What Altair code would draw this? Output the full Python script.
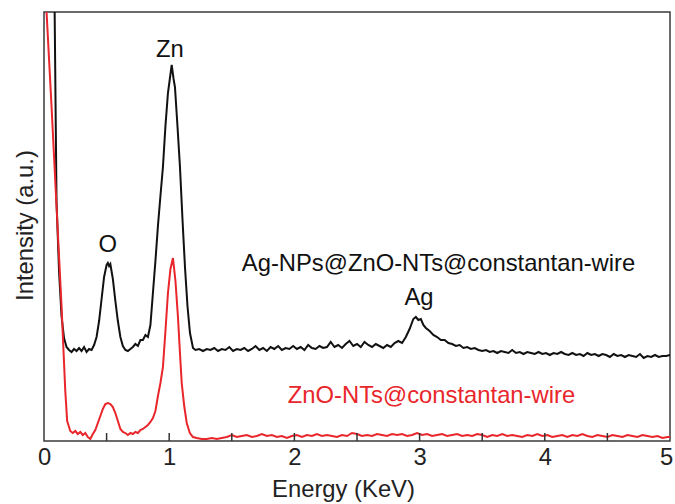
import altair as alt
import pandas as pd

# ---- data ----
black_x = [0.0, 0.085, 0.10, 0.12, 0.14, 0.16, 0.18, 0.20, 0.22, 0.24, 0.26, 0.28, 0.30, 0.32, 0.34, 0.36, 0.38,
           0.40, 0.42, 0.44, 0.46, 0.48, 0.50, 0.51, 0.52, 0.53, 0.55, 0.57, 0.59, 0.61, 0.63, 0.65, 0.67, 0.69,
           0.71, 0.73, 0.75, 0.77, 0.79, 0.81, 0.83, 0.85, 0.87, 0.89, 0.91, 0.93, 0.95, 0.97, 0.99, 1.005, 1.02,
           1.035, 1.046, 1.066, 1.086, 1.106, 1.126, 1.146, 1.166, 1.19, 1.21, 1.24, 1.27, 1.30, 1.33, 1.36, 1.39,
           1.42, 1.45, 1.48, 1.51, 1.54, 1.57, 1.60, 1.63, 1.66, 1.69, 1.72, 1.75, 1.78, 1.81, 1.84, 1.87, 1.90,
           1.93, 1.96, 1.99, 2.02, 2.05, 2.08, 2.11, 2.14, 2.17, 2.20, 2.23, 2.26, 2.29, 2.32, 2.35, 2.38, 2.41,
           2.44, 2.47, 2.50, 2.53, 2.56, 2.59, 2.62, 2.65, 2.68, 2.71, 2.74, 2.77, 2.80, 2.83, 2.86, 2.89, 2.92,
           2.95, 2.97, 2.99, 3.01, 3.03, 3.05, 3.08, 3.11, 3.14, 3.17, 3.20, 3.23, 3.26, 3.29, 3.32, 3.35, 3.38,
           3.41, 3.44, 3.47, 3.50, 3.53, 3.56, 3.59, 3.62, 3.65, 3.68, 3.71, 3.74, 3.77, 3.80, 3.83, 3.86, 3.89,
           3.92, 3.95, 3.98, 4.01, 4.04, 4.07, 4.10, 4.13, 4.16, 4.19, 4.22, 4.25, 4.28, 4.31, 4.34, 4.37, 4.40,
           4.43, 4.46, 4.49, 4.52, 4.55, 4.58, 4.61, 4.64, 4.67, 4.70, 4.73, 4.76, 4.79, 4.82, 4.85, 4.88, 4.91,
           4.94, 4.97, 5.00]
black_y = [3000, 430, 240, 170, 125, 103, 94, 91, 89, 92, 90, 93, 90, 94, 89, 92, 91,
           96, 104, 120, 142, 164, 176, 178, 175, 177, 162, 140, 120, 104, 95, 91, 90, 92,
           94, 97, 95, 101, 101, 106, 104, 116, 148, 180, 215, 245, 274, 315, 348, 362, 376,
           362, 354, 315, 274, 222, 174, 135, 108, 93, 91, 92, 90, 92, 91, 93, 90,
           92, 91, 94, 90, 92, 91, 93, 90, 92, 95, 91, 93, 90, 94, 92, 95, 91,
           93, 92, 95, 92, 94, 91, 96, 93, 92, 95, 93, 94, 99, 94, 96, 93, 97,
           100, 95, 97, 94, 99, 96, 94, 97, 95, 93, 96, 94, 98, 100, 98, 104, 112,
           122, 124, 121, 122, 116, 113, 110, 106, 104, 101, 101, 98, 97, 95, 96, 93, 94,
           92, 93, 91, 90, 91, 89, 90, 88, 90, 89, 88, 91, 88, 89, 87, 89, 88,
           87, 89, 87, 88, 86, 88, 87, 89, 87, 86, 88, 86, 87, 85, 88, 86, 87,
           85, 87, 86, 84, 87, 85, 86, 84, 86, 85, 84, 87, 83, 85, 84, 86, 84,
           85, 85, 86]

red_x = [0.0, 0.02, 0.06, 0.10, 0.14, 0.17, 0.185, 0.21, 0.23, 0.25, 0.27, 0.29, 0.31, 0.33,
         0.35, 0.37, 0.39, 0.41, 0.43, 0.45, 0.47, 0.49, 0.51, 0.53, 0.55, 0.57, 0.59, 0.61, 0.63, 0.65, 0.67,
         0.69, 0.71, 0.73, 0.75, 0.77, 0.79, 0.81, 0.83, 0.85, 0.87, 0.89, 0.91, 0.93, 0.95, 0.97, 0.99, 1.01,
         1.03, 1.05, 1.07, 1.085, 1.10, 1.12, 1.14, 1.165, 1.19, 1.22, 1.26, 1.30, 1.34, 1.38, 1.42, 1.46, 1.50,
         1.54, 1.58, 1.62, 1.66, 1.70, 1.74, 1.78, 1.82, 1.86, 1.90, 1.94, 1.98, 2.02, 2.06, 2.10, 2.14, 2.18,
         2.22, 2.26, 2.30, 2.34, 2.38, 2.42, 2.46, 2.50, 2.54, 2.58, 2.62, 2.66, 2.70, 2.74, 2.78, 2.82, 2.86,
         2.90, 2.94, 2.98, 3.02, 3.06, 3.10, 3.14, 3.18, 3.22, 3.26, 3.30, 3.34, 3.38, 3.42, 3.46, 3.50, 3.54,
         3.58, 3.62, 3.66, 3.70, 3.74, 3.78, 3.82, 3.86, 3.90, 3.94, 3.98, 4.02, 4.06, 4.10, 4.14, 4.18, 4.22,
         4.26, 4.30, 4.34, 4.38, 4.42, 4.46, 4.50, 4.54, 4.58, 4.62, 4.66, 4.70, 4.74, 4.78, 4.82, 4.86, 4.90,
         4.94, 4.98, 5.00]
red_y = [3000, 430, 335, 235, 135, 50, 20, 10, 8, 10, 7, 9, 6, 8,
         4, 2, 7, 11, 18, 25, 32, 37, 38, 37, 34, 28, 20, 12, 9, 8, 6,
         8, 7, 9, 8, 11, 12, 14, 16, 19, 23, 30, 45, 58, 74, 110, 148, 172,
         183, 160, 124, 90, 58, 35, 18, 8, 4, 3, 2, 2, 3, 2, 3, 4, 6,
         4, 5, 6, 4, 5, 7, 5, 6, 4, 5, 3, 5, 6, 4, 6, 5, 7,
         5, 6, 5, 4, 6, 5, 8, 7, 5, 6, 5, 7, 6, 5, 7, 6, 7,
         5, 6, 8, 6, 7, 5, 6, 7, 5, 6, 7, 5, 6, 5, 7, 6, 4,
         6, 5, 7, 5, 6, 5, 4, 6, 5, 7, 5, 6, 4, 5, 6, 4, 6,
         5, 7, 5, 4, 6, 5, 4, 6, 5, 4, 6, 5, 4, 6, 5, 4, 5,
         3, 4, 4]

x_tick_labels = [0, 1, 2, 3, 4, 5]
minor_ticks = [0.5, 1.0, 1.5, 2.0, 2.5, 3.0, 3.5, 4.0, 4.5]

peak_labels = ["Zn", "O", "Ag"]
peak_x = [1.005, 0.51, 2.995]
peak_y = [384, 189, 136]

black_name = "Ag-NPs@ZnO-NTs@constantan-wire"
black_name_x = 3.151
black_name_y = 170
red_name = "ZnO-NTs@constantan-wire"
red_name_x = 3.095
red_name_y = 38

# ---- chart ----
FONT = "Liberation Sans"
FS = 23.8
BLACK = "#111111"
RED = "#e8262b"
TXT = "#222222"

xscale = alt.Scale(domain=[0, 5], nice=False, zero=False)
yscale = alt.Scale(domain=[0, 429], nice=False, zero=False)

x_axis = alt.Axis(values=x_tick_labels, ticks=False, domain=False, grid=False,
                  labelFontSize=FS, labelFont=FONT, labelColor=TXT, labelPadding=4,
                  labelFlush=False,
                  labelOffset={"condition": {"test": "datum.value == 5", "value": -4}, "value": 0},
                  title="Energy (KeV)", titleFont=FONT, titleFontSize=FS,
                  titleFontWeight="normal", titleColor=TXT,
                  titleX=299, titleY=55, titleAlign="center", titleBaseline="alphabetic",
                  format="d")
y_axis = alt.Axis(labels=False, ticks=False, domain=False, grid=False,
                  title="Intensity (a.u.)", titleFont=FONT, titleFontSize=FS,
                  titleFontWeight="normal", titleColor=TXT,
                  titleX=-12, titleY=213, titleAlign="center", titleBaseline="alphabetic",
                  titleAngle=270)

black_df = pd.DataFrame({"energy": black_x, "intensity": black_y})
red_df = pd.DataFrame({"energy": red_x, "intensity": red_y})

black_line = alt.Chart(black_df).mark_line(color=BLACK, strokeWidth=2, clip=True).encode(
    x=alt.X("energy:Q", scale=xscale, axis=x_axis),
    y=alt.Y("intensity:Q", scale=yscale, axis=y_axis),
)
red_line = alt.Chart(red_df).mark_line(color=RED, strokeWidth=2, clip=True).encode(
    x=alt.X("energy:Q", scale=xscale),
    y=alt.Y("intensity:Q", scale=yscale),
)

ticks = alt.Chart(pd.DataFrame({"pos": minor_ticks})).mark_rule(color="#333333", strokeWidth=1.5).encode(
    x=alt.X("pos:Q", scale=xscale),
    y=alt.value(429),
    y2=alt.value(421),
)

peaks = alt.Chart(pd.DataFrame({"t": peak_labels, "x": peak_x, "y": peak_y})).mark_text(
    font=FONT, fontSize=FS, color=BLACK, baseline="alphabetic", align="center"
).encode(x=alt.X("x:Q", scale=xscale), y=alt.Y("y:Q", scale=yscale), text="t:N")

black_lbl = alt.Chart(pd.DataFrame({"t": [black_name], "x": [black_name_x], "y": [black_name_y]})).mark_text(
    font=FONT, fontSize=FS, color=BLACK, baseline="alphabetic", align="center"
).encode(x=alt.X("x:Q", scale=xscale), y=alt.Y("y:Q", scale=yscale), text="t:N")

red_lbl = alt.Chart(pd.DataFrame({"t": [red_name], "x": [red_name_x], "y": [red_name_y]})).mark_text(
    font=FONT, fontSize=FS, color=RED, baseline="alphabetic", align="center"
).encode(x=alt.X("x:Q", scale=xscale), y=alt.Y("y:Q", scale=yscale), text="t:N")

chart = alt.layer(black_line, red_line, ticks, peaks, black_lbl, red_lbl).properties(
    width=626, height=429,
    autosize=alt.AutoSizeParams(type="none"),
    padding={"left": 44, "top": 12, "right": 5, "bottom": 63},
    background="white",
).configure_view(stroke="#3a3a3a", strokeWidth=1.5)

chart.save("out.html", embed_options={"renderer": "svg", "actions": False})
